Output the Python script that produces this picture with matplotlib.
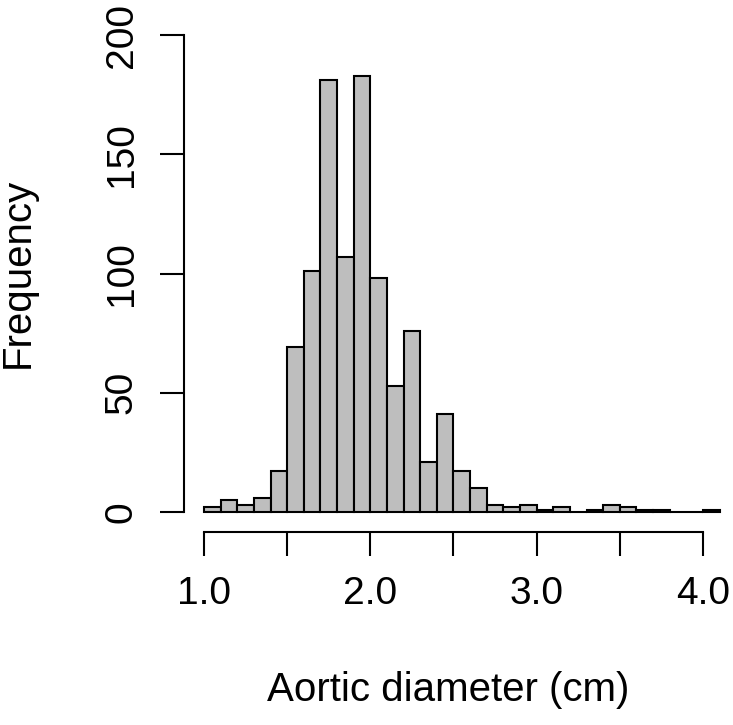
import numpy as np
import matplotlib.pyplot as plt

plt.rcParams['font.family'] = ['Liberation Sans', 'DejaVu Sans']

# histogram bins (cm) and counts
bin_edges = np.round(np.arange(1.0, 4.11, 0.1), 2)
counts = [2, 5, 3, 6, 17, 69, 101, 181, 107, 183,
          98, 53, 76, 21, 41, 17, 10, 3, 2, 3,
          1, 2, 0, 1, 3, 2, 1, 1, 0, 0, 1]
x_ticks = [1.0, 1.5, 2.0, 2.5, 3.0, 3.5, 4.0]
x_labels = ['1.0', '', '2.0', '', '3.0', '', '4.0']
y_ticks = [0, 50, 100, 150, 200]

# pixel layout of the R-style plot
px_per_x = (703 - 204) / 3.0
px_per_y = (512 - 35) / 200.0

fig = plt.figure(figsize=(7.33, 7.25), dpi=100)
ax = fig.add_axes([184 / 733, 1 - 532 / 725, (725 - 184) / 733, (532 - 30) / 725])

ax.bar(bin_edges[:-1], counts, width=0.1, align='edge',
       color='#bebebe', edgecolor='black', linewidth=1.5)

ax.set_xlim(1.0 - 20 / px_per_x, 4.0 + 22 / px_per_x)
ax.set_ylim(-20 / px_per_y, 200 + 5 / px_per_y)

for s in ['top', 'right']:
    ax.spines[s].set_visible(False)
ax.spines['left'].set_bounds(0, 200)
ax.spines['bottom'].set_bounds(1.0, 4.0)
ax.spines['left'].set_linewidth(1.5)
ax.spines['bottom'].set_linewidth(1.5)

ax.set_xticks(x_ticks)
ax.set_xticklabels(x_labels)
ax.set_yticks(y_ticks)
ax.set_yticklabels([str(v) for v in y_ticks], rotation=90, va='center')
ax.tick_params(axis='both', length=17, width=1.5, labelsize=28)
ax.tick_params(axis='x', pad=15)
ax.tick_params(axis='y', pad=15)

fig.text(18 / 733, 1 - 273 / 725, 'Frequency', rotation=90,
         ha='center', va='center', fontsize=29)
fig.text(448 / 733, 1 - 690 / 725, 'Aortic diameter (cm)',
         ha='center', va='center', fontsize=29)

fig.savefig('out.png', dpi=100)
